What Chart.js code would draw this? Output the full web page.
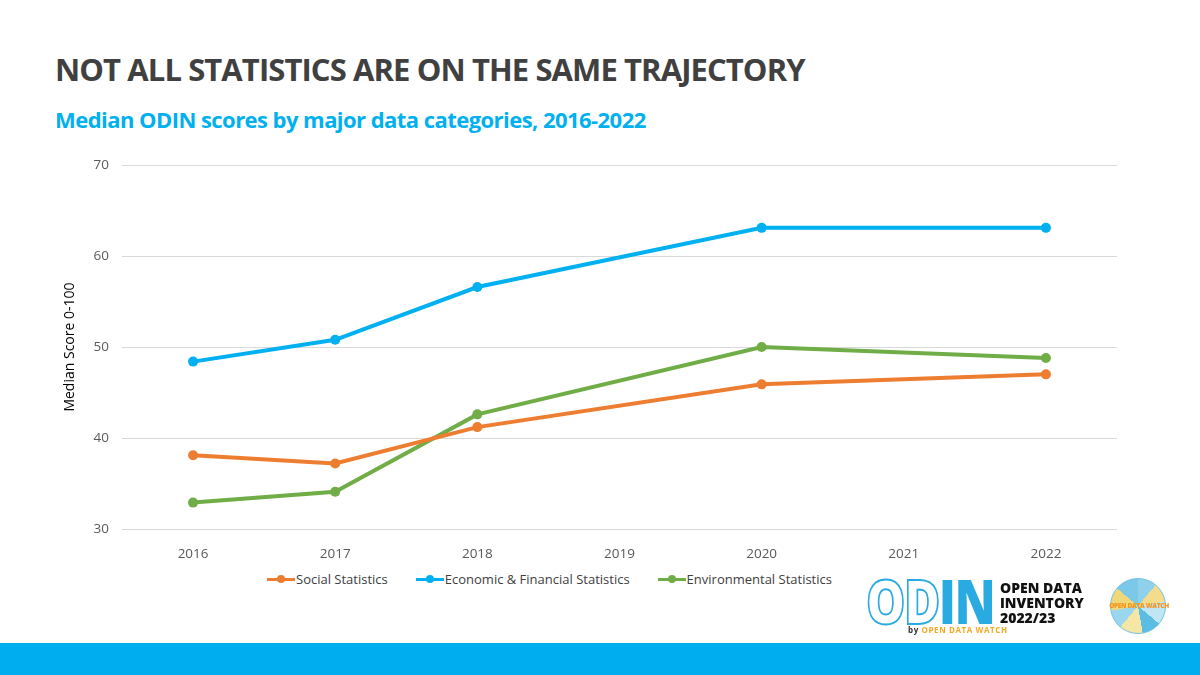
<!DOCTYPE html>
<html>
<head>
<meta charset="utf-8">
<script src="https://cdn.jsdelivr.net/npm/chart.js@4/dist/chart.umd.min.js"></script>
<style>
  html, body { margin: 0; padding: 0; }
  body { width: 1200px; height: 675px; position: relative; overflow: hidden; background: #fff; font-family: 'Open Sans', sans-serif; }
  #title { position: absolute; left: 55px; top: 48px; font-size: 31px; font-weight: 700; color: #404040; letter-spacing: -0.9px; white-space: nowrap; }
  #subtitle { position: absolute; left: 55px; top: 104px; font-size: 22px; font-weight: 700; color: #00B0F0; letter-spacing: -0.55px; white-space: nowrap; }
  #chartBox { position: absolute; left: 40px; top: 144px; width: 1090px; height: 416px; }
  #legend { position: absolute; top: 570px; left: 267px; display: flex; font-size: 13px; color: #404040; white-space: nowrap; }
  .item { display: flex; align-items: center; margin-right: 28px; }
  .mark { position: relative; width: 28px; height: 12px; margin-right: 1px; }
  .mark .ln { position: absolute; left: 0; right: 0; top: 5px; height: 3px; }
  .mark .dt { position: absolute; left: 10px; top: 2px; width: 8px; height: 8px; border-radius: 50%; }
  #bar { position: absolute; left: 0; top: 643px; width: 1200px; height: 32px; background: #00AEEF; }
  #odin { position: absolute; left: 866px; top: 570px; font-size: 62px; font-weight: 800; line-height: 60px; letter-spacing: -2px; transform: scaleX(0.8); transform-origin: 0 0; white-space: nowrap; }
  #odin .od { color: #fff; -webkit-text-stroke: 2px #29ABE2; }
  #odin .in { color: #29ABE2; }
  #odinTxt { position: absolute; left: 1000px; top: 580px; font-size: 14px; font-weight: 800; line-height: 15px; color: #111; }
  #by { position: absolute; left: 908px; top: 624px; font-size: 8px; font-weight: 700; color: #333; letter-spacing: 0.6px; white-space: nowrap; }
  #by span { color: #F7A823; }
  #watch { position: absolute; left: 1110px; top: 578px; width: 56px; height: 56px; border-radius: 50%;
    background: conic-gradient(#8fd0ea 0 40deg, #f3dd8c 40deg 80deg, #bfe6f3 80deg 130deg, #5bbde3 130deg 170deg, #f6e6a6 170deg 220deg, #9ad6ee 220deg 260deg, #efd77a 260deg 310deg, #7cc8e8 310deg 360deg);
    border: 1px solid #6ec2e4; box-sizing: border-box; }
  #watch span { position: absolute; left: -2px; width: 60px; top: 22px; text-align: center; font-size: 6.5px; font-weight: 800; color: #F7941D; letter-spacing: -0.3px; white-space: nowrap; }
</style>
</head>
<body>
<div id="title">NOT ALL STATISTICS ARE ON THE SAME TRAJECTORY</div>
<div id="subtitle">Median ODIN scores by major data categories, 2016-2022</div>
<div id="chartBox"><canvas id="chart"></canvas></div>
<div id="legend"></div>
<div id="odin"><span class="od">OD</span><span class="in">IN</span></div>
<div id="odinTxt">OPEN DATA<br>INVENTORY<br>2022/23</div>
<div id="by">by <span>OPEN DATA WATCH</span></div>
<div id="watch"><span>OPEN DATA WATCH</span></div>
<div id="bar"></div>
<script>
const years = ['2016', '2017', '2018', '2019', '2020', '2021', '2022'];
const socialStats = [38.1, 37.2, 41.2, null, 45.9, null, 47.0];
const economicStats = [48.4, 50.8, 56.6, null, 63.1, null, 63.1];
const environmentalStats = [32.9, 34.1, 42.6, null, 50.0, null, 48.8];
const seriesNames = ['Social Statistics', 'Economic & Financial Statistics', 'Environmental Statistics'];
const seriesColors = ['#ED7D31', '#00B0F0', '#70AD47'];
const yMin = 30, yMax = 70, yStep = 10;

const seriesData = [socialStats, economicStats, environmentalStats];

const datasets = seriesData.map((d, i) => ({
    label: seriesNames[i],
    data: d,
    borderColor: seriesColors[i],
    backgroundColor: seriesColors[i],
    pointBackgroundColor: seriesColors[i],
    pointBorderColor: seriesColors[i],
    borderWidth: 4,
    pointRadius: 5,
    pointBorderWidth: 0,
    spanGaps: true,
    tension: 0
}));

new Chart(document.getElementById('chart'), {
    type: 'line',
    data: { labels: years, datasets: datasets },
    options: {
        responsive: true,
        maintainAspectRatio: false,
        animation: false,
        layout: { padding: { top: 8, right: 13, left: 0, bottom: 0 } },
        plugins: { legend: { display: false }, tooltip: { enabled: false } },
        scales: {
            x: {
                offset: true,
                grid: { display: false },
                border: { display: false },
                ticks: { color: '#595959', font: { family: 'Open Sans', size: 13.5 }, padding: 9 },
                afterFit: (s) => { s.height = 31; }
            },
            y: {
                min: yMin,
                max: yMax,
                ticks: { stepSize: yStep, color: '#595959', font: { family: 'Open Sans', size: 13.5 }, padding: 13 },
                grid: { color: '#D9D9D9', lineWidth: 1, drawTicks: false },
                border: { display: false },
                title: {
                    display: true,
                    text: 'Median Score 0-100',
                    color: '#000',
                    font: { family: 'Open Sans', size: 14 },
                    padding: { top: 22, bottom: 0 }
                },
                afterFit: (s) => { s.width = 82; }
            }
        }
    }
});

// Excel-style legend: line with dot
const legend = document.getElementById('legend');
seriesNames.forEach((name, i) => {
    const item = document.createElement('div');
    item.className = 'item';
    item.innerHTML = '<div class="mark"><div class="ln" style="background:' + seriesColors[i] + '"></div>' +
        '<div class="dt" style="background:' + seriesColors[i] + '"></div></div><span>' + name + '</span>';
    legend.appendChild(item);
});
</script>
</body>
</html>
